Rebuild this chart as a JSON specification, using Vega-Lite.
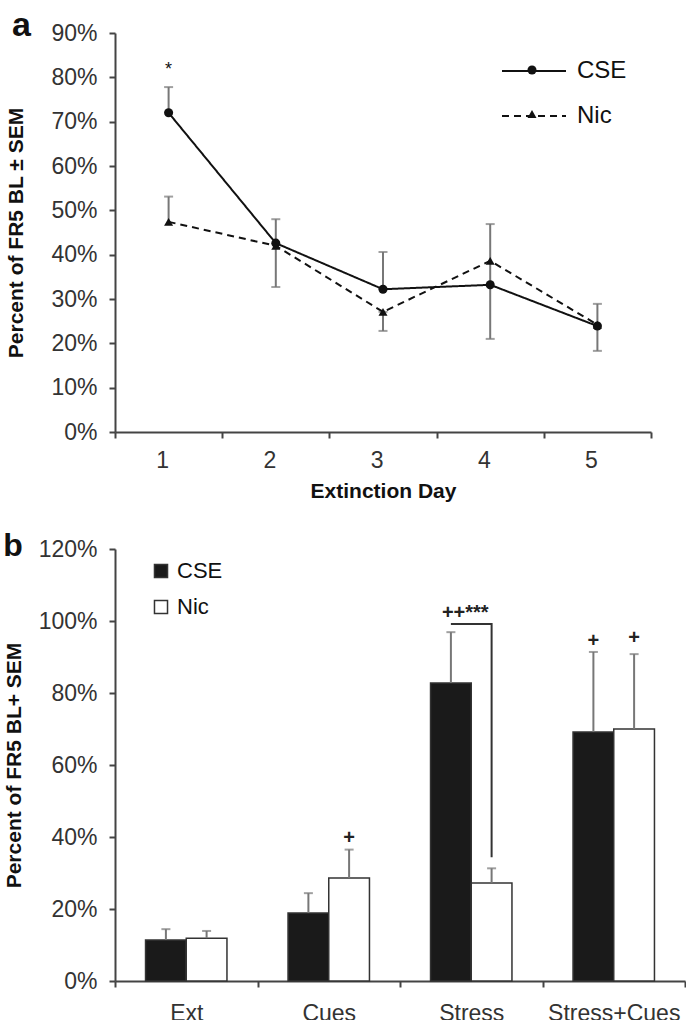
{
  "$schema": "https://vega.github.io/schema/vega-lite/v6.json",
  "background": "white",
  "padding": {"left": 3, "top": 9, "right": 0, "bottom": 0},
  "spacing": 29,
  "resolve": {
    "scale": {"fill": "independent", "strokeDash": "independent", "shape": "independent"},
    "legend": {"fill": "independent", "strokeDash": "independent", "shape": "independent"}
  },
  "config": {
    "font": "Liberation Sans",
    "view": {"stroke": null},
    "axis": {
      "domainColor": "#444", "domainWidth": 2, "tickColor": "#444", "tickWidth": 2, "tickSize": 6,
      "labelColor": "#333", "labelFontSize": 23, "labelFont": "Liberation Sans",
      "titleFont": "Liberation Sans", "titleFontSize": 21, "titleFontWeight": "bold", "titleColor": "#111",
      "grid": false
    },
    "legend": {"padding": 0, "labelFont": "Liberation Sans"}
  },
  "datasets": {
    "lines": [
      {"day": 1, "grp": "CSE", "value": 72.0},
      {"day": 2, "grp": "CSE", "value": 42.6},
      {"day": 3, "grp": "CSE", "value": 32.2},
      {"day": 4, "grp": "CSE", "value": 33.2},
      {"day": 5, "grp": "CSE", "value": 23.9},
      {"day": 1, "grp": "Nic", "value": 47.4},
      {"day": 2, "grp": "Nic", "value": 42.0},
      {"day": 3, "grp": "Nic", "value": 27.1},
      {"day": 4, "grp": "Nic", "value": 38.6},
      {"day": 5, "grp": "Nic", "value": 24.2}
    ],
    "errA": [
      {"day": 1, "lo": 72.0, "hi": 77.8, "capLo": false},
      {"day": 1, "lo": 47.4, "hi": 53.1, "capLo": false},
      {"day": 2, "lo": 32.7, "hi": 48.0, "capLo": true},
      {"day": 3, "lo": 32.2, "hi": 40.6, "capLo": false},
      {"day": 3, "lo": 22.8, "hi": 27.1, "capLo": true},
      {"day": 4, "lo": 21.0, "hi": 46.9, "capLo": true},
      {"day": 5, "lo": 18.3, "hi": 28.9, "capLo": true}
    ],
    "starA": [{"day": 1, "value": 81.6, "t": "*"}],
    "bars": [
      {"cond": "Ext", "grp": "CSE", "value": 11.4, "hi": 14.4},
      {"cond": "Ext", "grp": "Nic", "value": 11.9, "hi": 13.9},
      {"cond": "Cues", "grp": "CSE", "value": 18.9, "hi": 24.4},
      {"cond": "Cues", "grp": "Nic", "value": 28.6, "hi": 36.5},
      {"cond": "Stress", "grp": "CSE", "value": 82.8, "hi": 96.9},
      {"cond": "Stress", "grp": "Nic", "value": 27.2, "hi": 31.3},
      {"cond": "Stress+Cues", "grp": "CSE", "value": 69.2, "hi": 91.4},
      {"cond": "Stress+Cues", "grp": "Nic", "value": 70.0, "hi": 90.8}
    ],
    "plusB": [
      {"cond": "Cues", "grp": "Nic", "value": 39.7, "t": "+"},
      {"cond": "Stress+Cues", "grp": "CSE", "value": 94.4, "t": "+"},
      {"cond": "Stress+Cues", "grp": "Nic", "value": 95.3, "t": "+"}
    ],
    "sigB": [{"cond": "Stress", "value": 102.2, "t": "++***"}],
    "bracket": [
      {"cond": "Stress", "grp": "CSE", "value": 99.2, "k": 1},
      {"cond": "Stress", "grp": "Nic", "value": 99.2, "k": 2},
      {"cond": "Stress", "grp": "Nic", "value": 34.4, "k": 3}
    ]
  },
  "vconcat": [
    {
      "width": 536,
      "height": 399,
      "title": {"text": "a", "anchor": "start", "frame": "bounds", "fontSize": 34, "fontWeight": "bold", "color": "#111", "baseline": "alphabetic", "offset": -48, "dx": 6},
      "layer": [
        {
          "data": {"name": "errA"},
          "mark": {"type": "rule", "color": "#777", "strokeWidth": 2},
          "encoding": {
            "x": {"field": "day", "type": "ordinal", "scale": {"type": "band", "paddingInner": 0, "paddingOuter": 0}},
            "y": {"field": "lo", "type": "quantitative", "title": "Percent of FR5 BL ± SEM"},
            "y2": {"field": "hi"}
          }
        },
        {
          "data": {"name": "errA"},
          "mark": {"type": "tick", "color": "#777", "thickness": 2, "size": 9},
          "encoding": {
            "x": {"field": "day", "type": "ordinal"},
            "y": {"field": "hi", "type": "quantitative", "title": "Percent of FR5 BL ± SEM"}
          }
        },
        {
          "data": {"name": "errA"},
          "transform": [{"filter": "datum.capLo"}],
          "mark": {"type": "tick", "color": "#777", "thickness": 2, "size": 9},
          "encoding": {
            "x": {"field": "day", "type": "ordinal"},
            "y": {"field": "lo", "type": "quantitative", "title": "Percent of FR5 BL ± SEM"}
          }
        },
        {
          "data": {"name": "lines"},
          "mark": {"type": "line", "color": "#111", "strokeWidth": 2},
          "encoding": {
            "x": {"field": "day", "type": "ordinal", "axis": {"title": "Extinction Day", "labelAngle": 0, "tickBand": "extent", "labelPadding": 22, "titlePadding": 8}},
            "y": {"field": "value", "type": "quantitative", "title": "Percent of FR5 BL ± SEM",
                  "scale": {"domain": [0, 90], "nice": false},
                  "axis": {"values": [0, 10, 20, 30, 40, 50, 60, 70, 80, 90], "labelExpr": "datum.value + '%'", "labelPadding": 12, "titlePadding": 24}},
            "strokeDash": {"field": "grp", "type": "nominal",
              "scale": {"domain": ["CSE", "Nic"], "range": [[1, 0], [7, 5]]},
              "legend": {
                "orient": "none", "legendX": 386, "legendY": 5, "title": null,
                "labelFontSize": 24, "labelColor": "#111", "labelOffset": 10, "rowPadding": -3,
                "symbolType": "stroke", "symbolSize": 4096, "symbolStrokeWidth": 2, "symbolStrokeColor": "#111"
              }}
          }
        },
        {
          "data": {"name": "lines"},
          "mark": {"type": "point", "filled": true, "color": "#111", "opacity": 1, "size": 82},
          "encoding": {
            "x": {"field": "day", "type": "ordinal"},
            "y": {"field": "value", "type": "quantitative", "title": "Percent of FR5 BL ± SEM"},
            "shape": {"field": "grp", "type": "nominal", "scale": {"domain": ["CSE", "Nic", "-"], "range": ["circle", "triangle-up", "square"]},
              "legend": {
                "orient": "none", "legendX": 412, "legendY": 32, "title": null, "values": ["CSE", "Nic"],
                "labelExpr": "''", "labelFontSize": 1, "labelOffset": 0, "rowPadding": 34,
                "symbolSize": 82, "symbolFillColor": "#111", "symbolStrokeColor": "#111", "symbolStrokeWidth": 0, "symbolOpacity": 1
              }}
          }
        },
        {
          "data": {"name": "starA"},
          "mark": {"type": "text", "fontSize": 18, "color": "#111", "baseline": "middle"},
          "encoding": {
            "x": {"field": "day", "type": "ordinal"},
            "y": {"field": "value", "type": "quantitative", "title": "Percent of FR5 BL ± SEM"},
            "text": {"field": "t"}
          }
        }
      ]
    },
    {
      "width": 570,
      "height": 432,
      "title": {"text": "b", "anchor": "start", "frame": "bounds", "fontSize": 32, "fontWeight": "bold", "color": "#111", "baseline": "alphabetic", "offset": -50},
      "layer": [
        {
          "data": {"name": "bars"},
          "mark": {"type": "bar", "stroke": "#333", "strokeWidth": 1.5},
          "encoding": {
            "x": {"field": "cond", "type": "nominal", "sort": ["Ext", "Cues", "Stress", "Stress+Cues"],
                  "scale": {"paddingInner": 0, "paddingOuter": 0},
                  "axis": {"title": null, "labelAngle": 0, "tickBand": "extent", "labelPadding": 15}},
            "xOffset": {"field": "grp", "type": "nominal", "sort": ["CSE", "Nic"], "scale": {"paddingInner": 0, "paddingOuter": 0.75}},
            "y": {"field": "value", "type": "quantitative", "title": "Percent of FR5 BL+ SEM",
                  "scale": {"domain": [0, 120], "nice": false},
                  "axis": {"values": [0, 20, 40, 60, 80, 100, 120], "labelExpr": "datum.value + '%'", "labelPadding": 12, "titlePadding": 14}},
            "fill": {"field": "grp", "type": "nominal", "scale": {"domain": ["CSE", "Nic"], "range": ["#1a1a1a", "#ffffff"]},
              "legend": {"orient": "none", "legendX": 35, "legendY": 11, "title": null, "symbolType": "square", "symbolSize": 170,
                         "symbolStrokeColor": "#333", "symbolStrokeWidth": 1.5, "labelFontSize": 22, "labelColor": "#111",
                         "labelOffset": 5, "rowPadding": 14}}
          }
        },
        {
          "data": {"name": "bars"},
          "mark": {"type": "rule", "color": "#777", "strokeWidth": 2},
          "encoding": {
            "x": {"field": "cond", "type": "nominal", "sort": ["Ext", "Cues", "Stress", "Stress+Cues"]},
            "xOffset": {"field": "grp", "type": "nominal", "sort": ["CSE", "Nic"]},
            "y": {"field": "value", "type": "quantitative", "title": "Percent of FR5 BL+ SEM"},
            "y2": {"field": "hi"}
          }
        },
        {
          "data": {"name": "bars"},
          "mark": {"type": "tick", "color": "#777", "thickness": 2, "size": 9},
          "encoding": {
            "x": {"field": "cond", "type": "nominal", "sort": ["Ext", "Cues", "Stress", "Stress+Cues"]},
            "xOffset": {"field": "grp", "type": "nominal", "sort": ["CSE", "Nic"]},
            "y": {"field": "hi", "type": "quantitative", "title": "Percent of FR5 BL+ SEM"}
          }
        },
        {
          "data": {"name": "bracket"},
          "mark": {"type": "line", "color": "#333", "strokeWidth": 2},
          "encoding": {
            "x": {"field": "cond", "type": "nominal", "sort": ["Ext", "Cues", "Stress", "Stress+Cues"]},
            "xOffset": {"field": "grp", "type": "nominal", "sort": ["CSE", "Nic"]},
            "y": {"field": "value", "type": "quantitative", "title": "Percent of FR5 BL+ SEM"},
            "order": {"field": "k", "type": "quantitative"}
          }
        },
        {
          "data": {"name": "plusB"},
          "mark": {"type": "text", "fontSize": 20, "fontWeight": "bold", "color": "#222", "baseline": "middle"},
          "encoding": {
            "x": {"field": "cond", "type": "nominal", "sort": ["Ext", "Cues", "Stress", "Stress+Cues"]},
            "xOffset": {"field": "grp", "type": "nominal", "sort": ["CSE", "Nic"]},
            "y": {"field": "value", "type": "quantitative", "title": "Percent of FR5 BL+ SEM"},
            "text": {"field": "t"}
          }
        },
        {
          "data": {"name": "sigB"},
          "mark": {"type": "text", "fontSize": 20, "fontWeight": "bold", "color": "#222", "baseline": "middle", "dx": -6},
          "encoding": {
            "x": {"field": "cond", "type": "nominal", "sort": ["Ext", "Cues", "Stress", "Stress+Cues"]},
            "y": {"field": "value", "type": "quantitative", "title": "Percent of FR5 BL+ SEM"},
            "text": {"field": "t"}
          }
        }
      ]
    }
  ]
}
